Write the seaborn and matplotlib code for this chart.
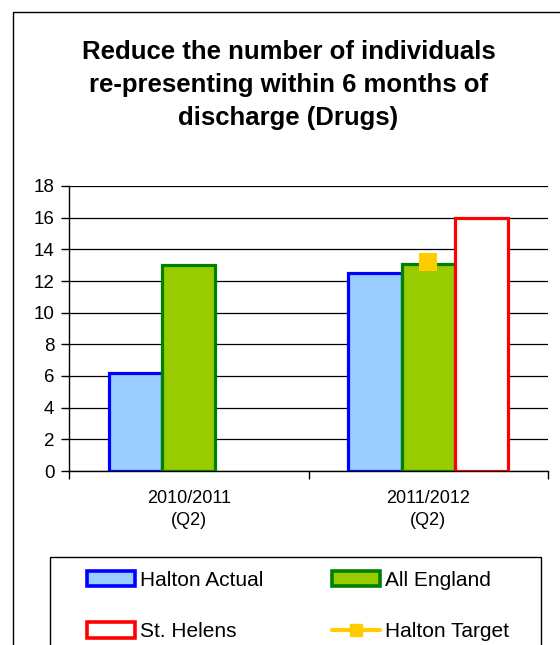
import pandas as pd
import matplotlib.pyplot as plt
import seaborn as sns
from matplotlib.patches import Patch, Rectangle
from matplotlib.lines import Line2D

# Data
periods = ["2010/2011\n(Q2)", "2011/2012\n(Q2)"]
halton_actual = [6.2, 12.5]
all_england = [13.0, 13.1]
st_helens = [float("nan"), 16.0]
halton_target = [float("nan"), 13.2]

series = ["Halton Actual", "All England", "St. Helens"]
fills = ["#99CCFF", "#99CC00", "#FFFFFF"]
edges = ["#0000FF", "#008000", "#FF0000"]
target_color = "#FFCC00"

df = pd.DataFrame({
    "period": periods * 3,
    "series": [s for s in series for _ in periods],
    "value": halton_actual + all_england + st_helens,
})

sns.set_style("white")
plt.rcParams["font.family"] = ["Liberation Sans", "DejaVu Sans"]
plt.rcParams["text.color"] = "black"
plt.rcParams["xtick.color"] = "black"
plt.rcParams["ytick.color"] = "black"

fig = plt.figure(figsize=(5.6, 6.45), dpi=100)
ax = fig.add_axes([69 / 560, 1 - 471 / 645, (548 - 69) / 560, (471 - 186) / 645])

sns.barplot(
    data=df, x="period", y="value", hue="series", order=periods,
    hue_order=series, palette=fills, width=2 / 3, gap=0,
    saturation=1, errorbar=None, legend=False, ax=ax,
)
for container, ec in zip(ax.containers, edges):
    for bar in container:
        bar.set_edgecolor(ec)
        bar.set_linewidth(2.3)
        bar.set_zorder(3)

sns.pointplot(
    x=periods, y=halton_target, order=periods, color=target_color,
    markers="s", markersize=12, linewidth=2, errorbar=None, ax=ax,
)
for ln in ax.lines:
    ln.set_zorder(5)

ax.set_ylim(0, 18)
ax.set_yticks(range(0, 19, 2))
ax.set_xlim(-0.5, 1.5)
ax.yaxis.grid(True, color="#000000", linewidth=0.9)
ax.set_axisbelow(True)
ax.set_xlabel("")
ax.set_ylabel("")
for side in ["top", "right"]:
    ax.spines[side].set_visible(False)
for side in ["left", "bottom"]:
    ax.spines[side].set_color("black")
    ax.spines[side].set_linewidth(1)
ax.tick_params(axis="y", length=5.5, width=1, direction="out",
               labelsize=13.5, pad=5, left=True)
ax.tick_params(axis="x", which="major", length=0, labelsize=13, pad=14)
for lbl in ax.get_xticklabels():
    lbl.set_linespacing(1.35)
ax.set_xticks([-0.5, 0.5, 1.5], minor=True)
ax.tick_params(axis="x", which="minor", length=6, width=1,
               direction="out", bottom=True)

fig.text(0.515, 1 - 85 / 645,
         "Reduce the number of individuals\nre-presenting within 6 months of\ndischarge (Drugs)",
         ha="center", va="center", fontsize=18.5, fontweight="bold", linespacing=1.45)

# outer chart frame
fig.patches.append(Rectangle((13 / 560, -0.1), 1.0, 1 - 12 / 645 + 0.1,
                             transform=fig.transFigure, fill=False,
                             edgecolor="black", linewidth=1))
# legend frame
fig.patches.append(Rectangle((50 / 560, -0.1), 491 / 560, 1 - 557 / 645 + 0.1,
                             transform=fig.transFigure, fill=False,
                             edgecolor="black", linewidth=1))

handles = [
    Patch(facecolor=fills[0], edgecolor=edges[0], linewidth=2.6, label="Halton Actual"),
    Patch(facecolor=fills[2], edgecolor=edges[2], linewidth=2.6, label="St. Helens"),
    Patch(facecolor=fills[1], edgecolor=edges[1], linewidth=2.6, label="All England"),
    Line2D([0], [0], color=target_color, linewidth=3, marker="s",
           markersize=8.5, label="Halton Target"),
]
leg = fig.legend(
    handles=handles, ncol=2, loc="upper left",
    bbox_to_anchor=(87 / 560, 1 - 571 / 645),
    fontsize=15, frameon=False, handlelength=2.3, handleheight=0.75,
    handletextpad=0.25, labelspacing=1.55, columnspacing=3.3,
    borderpad=0, borderaxespad=0,
)

fig.savefig("out.png", dpi=100)
